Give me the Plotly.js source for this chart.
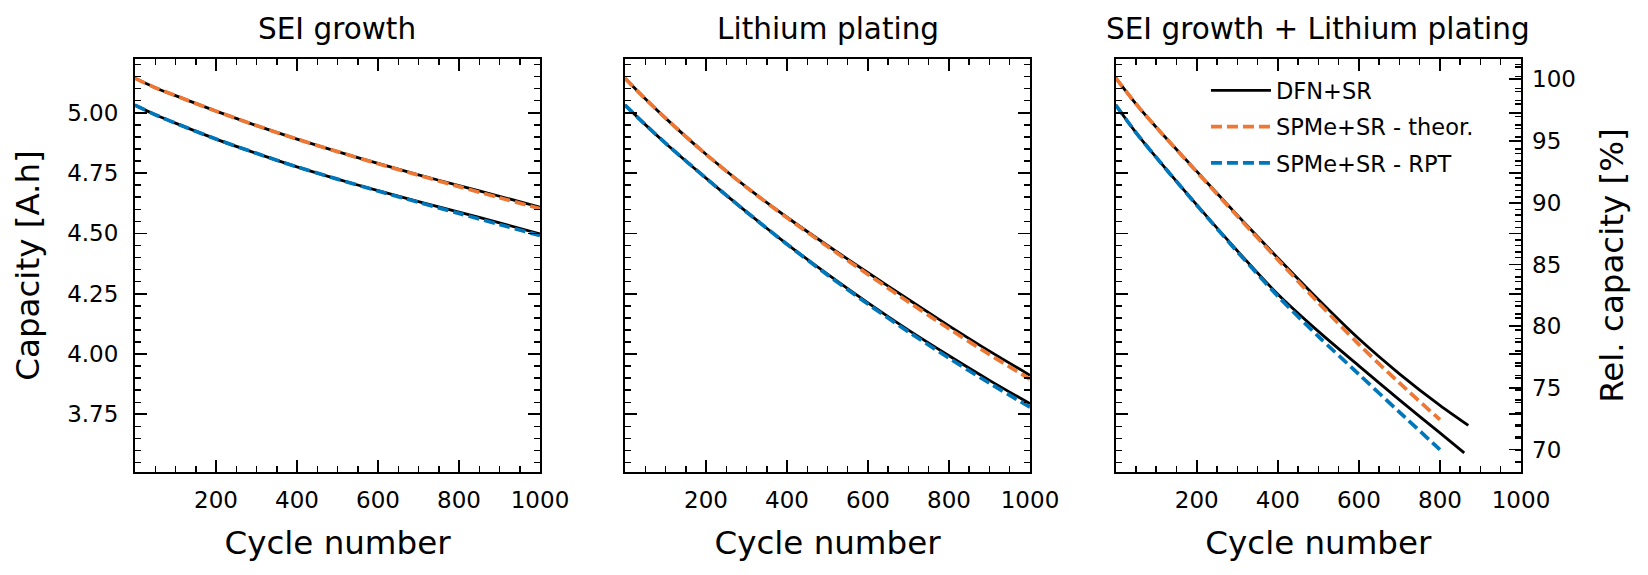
<!DOCTYPE html>
<html>
<head>
<meta charset="utf-8">
<script src="https://cdn.plot.ly/plotly-3.0.1.min.js"></script>
<style>
  body { margin: 0; background: #fff; }
  #chart { width: 1648px; height: 575px; }
</style>
</head>
<body>
<div id="chart"></div>
<script>
// cycle numbers at which values were read
var cycles = [0, 50, 100, 200, 300, 400, 500, 600, 700, 800, 900, 1000];

// SEI growth
var seiDfnUpper = [5.143, 5.104, 5.071, 5.007, 4.947, 4.891, 4.839, 4.790, 4.743, 4.698, 4.654, 4.609];
var seiTheor    = [5.143, 5.104, 5.071, 5.007, 4.947, 4.891, 4.839, 4.789, 4.741, 4.694, 4.648, 4.603];
var seiDfnLower = [5.032, 4.992, 4.957, 4.891, 4.832, 4.776, 4.725, 4.677, 4.632, 4.588, 4.544, 4.498];
var seiRpt      = [5.032, 4.992, 4.957, 4.891, 4.832, 4.776, 4.725, 4.676, 4.629, 4.583, 4.537, 4.491];

// Lithium plating
var lpDfnUpper = [5.143, 5.058, 4.978, 4.828, 4.692, 4.567, 4.450, 4.337, 4.226, 4.117, 4.012, 3.912];
var lpTheor    = [5.143, 5.058, 4.978, 4.828, 4.691, 4.565, 4.446, 4.330, 4.216, 4.105, 3.998, 3.896];
var lpDfnLower = [5.032, 4.951, 4.874, 4.729, 4.589, 4.456, 4.331, 4.212, 4.099, 3.993, 3.891, 3.794];
var lpRpt      = [5.032, 4.951, 4.874, 4.729, 4.589, 4.455, 4.328, 4.207, 4.092, 3.983, 3.879, 3.780];

// SEI growth + Lithium plating (runs stop early)
var bothDfnUpperCycles = [0, 50, 100, 200, 300, 400, 500, 600, 700, 800, 870];
var bothDfnUpper = [5.145, 5.037, 4.940, 4.757, 4.576, 4.398, 4.226, 4.063, 3.918, 3.787, 3.704];
var bothDfnLowerCycles = [0, 50, 100, 200, 300, 400, 500, 600, 700, 800, 860];
var bothDfnLower = [5.032, 4.918, 4.815, 4.618, 4.428, 4.248, 4.094, 3.951, 3.810, 3.673, 3.590];
var bothSpmCycles = [0, 50, 100, 200, 300, 400, 500, 600, 700, 800];
var bothTheor = [5.145, 5.037, 4.940, 4.755, 4.572, 4.391, 4.213, 4.040, 3.880, 3.728];
var bothRpt   = [5.032, 4.918, 4.815, 4.617, 4.424, 4.240, 4.073, 3.916, 3.759, 3.604];

var xTicks = [200, 400, 600, 800, 1000];
var yTicks = [3.75, 4.00, 4.25, 4.50, 4.75, 5.00];
var relTicks = [70, 75, 80, 85, 90, 95, 100];

var FONT = 'DejaVu Sans';
var ORANGE = '#EE7733';
var BLUE = '#0077BB';

function dfn(x, y, xa, ya, leg) {
  return { x: x, y: y, xaxis: xa, yaxis: ya, type: 'scatter', mode: 'lines',
    name: 'DFN+SR', legendgroup: 'dfn', showlegend: leg,
    line: { color: '#000', width: 2.8, shape: 'spline', smoothing: 0.8 } };
}
function spm(x, y, xa, ya, name, color, leg) {
  return { x: x, y: y, xaxis: xa, yaxis: ya, type: 'scatter', mode: 'lines',
    name: name, legendgroup: name, showlegend: leg,
    line: { color: color, width: 3.7, dash: '11px,5px', shape: 'spline', smoothing: 0.8 } };
}

var data = [
  dfn(cycles, seiDfnUpper, 'x', 'y', false),
  dfn(cycles, seiDfnLower, 'x', 'y', false),
  dfn(cycles, lpDfnUpper, 'x2', 'y2', false),
  dfn(cycles, lpDfnLower, 'x2', 'y2', false),
  dfn(bothDfnUpperCycles, bothDfnUpper, 'x3', 'y3', true),
  dfn(bothDfnLowerCycles, bothDfnLower, 'x3', 'y3', false),
  spm(cycles, seiTheor, 'x', 'y', 'SPMe+SR - theor.', ORANGE, false),
  spm(cycles, lpTheor, 'x2', 'y2', 'SPMe+SR - theor.', ORANGE, false),
  spm(bothSpmCycles, bothTheor, 'x3', 'y3', 'SPMe+SR - theor.', ORANGE, true),
  spm(cycles, seiRpt, 'x', 'y', 'SPMe+SR - RPT', BLUE, false),
  spm(cycles, lpRpt, 'x2', 'y2', 'SPMe+SR - RPT', BLUE, false),
  spm(bothSpmCycles, bothRpt, 'x3', 'y3', 'SPMe+SR - RPT', BLUE, true),
  // empty trace so the relative-capacity axis gets drawn
  { x: [], y: [], xaxis: 'x3', yaxis: 'y4', type: 'scatter', mode: 'lines', showlegend: false, hoverinfo: 'skip' }
];

var tickFont = { family: FONT, size: 23, color: '#000' };
var labelFont = { family: FONT, size: 32.5, color: '#000' };

function xAxis(dom, anchor) {
  return {
    domain: dom, anchor: anchor, range: [0, 1000],
    tickmode: 'array', tickvals: xTicks, ticktext: xTicks.map(String),
    ticks: 'inside', ticklen: 12, tickwidth: 1.8, tickcolor: '#000',
    mirror: 'ticks', showline: true, linewidth: 2, linecolor: '#000',
    showgrid: false, zeroline: false, tickfont: tickFont, ticklabelstandoff: 6,
    minor: { ticks: 'inside', ticklen: 6, tickwidth: 1.5, tickcolor: '#000', dtick: 50, tick0: 0, showgrid: false },
    title: { text: 'Cycle number', font: labelFont, standoff: 20 }
  };
}
function yAxis(anchor, labels) {
  return {
    domain: [0, 1], anchor: anchor, range: [3.511, 5.223],
    tickmode: 'array', tickvals: yTicks, ticktext: yTicks.map(function (v) { return v.toFixed(2); }),
    showticklabels: labels, ticklabelstandoff: 10,
    ticks: 'inside', ticklen: 12, tickwidth: 1.8, tickcolor: '#000',
    mirror: 'ticks', showline: true, linewidth: 2, linecolor: '#000',
    showgrid: false, zeroline: false, tickfont: tickFont,
    minor: { ticks: 'inside', ticklen: 6, tickwidth: 1.5, tickcolor: '#000', dtick: 0.05, tick0: 3.5, showgrid: false }
  };
}

var yax1 = yAxis('x', true);
yax1.title = { text: 'Capacity [A.h]', font: labelFont, standoff: 18 };

var layout = {
  width: 1648, height: 575,
  margin: { l: 135, r: 127, t: 59, b: 103.3 },
  paper_bgcolor: '#fff', plot_bgcolor: '#fff',
  font: { family: FONT, color: '#000' },
  showlegend: true,
  legend: {
    x: 0.7727, y: 0.975, xanchor: 'left', yanchor: 'top',
    bgcolor: 'rgba(0,0,0,0)', borderwidth: 0,
    font: { family: FONT, size: 22.5, color: '#000' },
    tracegroupgap: 4, itemwidth: 60
  },
  xaxis: xAxis([0, 0.29221], 'y'),
  xaxis2: xAxis([0.35354, 0.64574], 'y2'),
  xaxis3: xAxis([0.70758, 1], 'y3'),
  yaxis: yax1,
  yaxis2: yAxis('x2', false),
  yaxis3: yAxis('x3', false),
  yaxis4: {
    overlaying: 'y3', side: 'right', anchor: 'x3', range: [68.18, 101.65],
    tickmode: 'array', tickvals: relTicks, ticktext: relTicks.map(String),
    ticks: 'inside', ticklen: 12, tickwidth: 1.8, tickcolor: '#000', ticklabelstandoff: 10,
    showline: false, showgrid: false, zeroline: false, tickfont: tickFont,
    minor: { ticks: 'inside', ticklen: 6, tickwidth: 1.5, tickcolor: '#000', dtick: 1, tick0: 0, showgrid: false },
    title: { text: 'Rel. capacity [%]', font: labelFont, standoff: 25 }
  },
  annotations: [
    { text: 'SEI growth', x: 0.14610, y: 1.0727 },
    { text: 'Lithium plating', x: 0.49964, y: 1.0727 },
    { text: 'SEI growth + Lithium plating', x: 0.85379, y: 1.0727 }
  ].map(function (a) {
    a.xref = 'paper'; a.yref = 'paper'; a.showarrow = false;
    a.xanchor = 'center'; a.yanchor = 'middle';
    a.font = { family: FONT, size: 29.5, color: '#000' };
    return a;
  })
};

Plotly.newPlot('chart', data, layout, { staticPlot: true, displayModeBar: false });
</script>
</body>
</html>
